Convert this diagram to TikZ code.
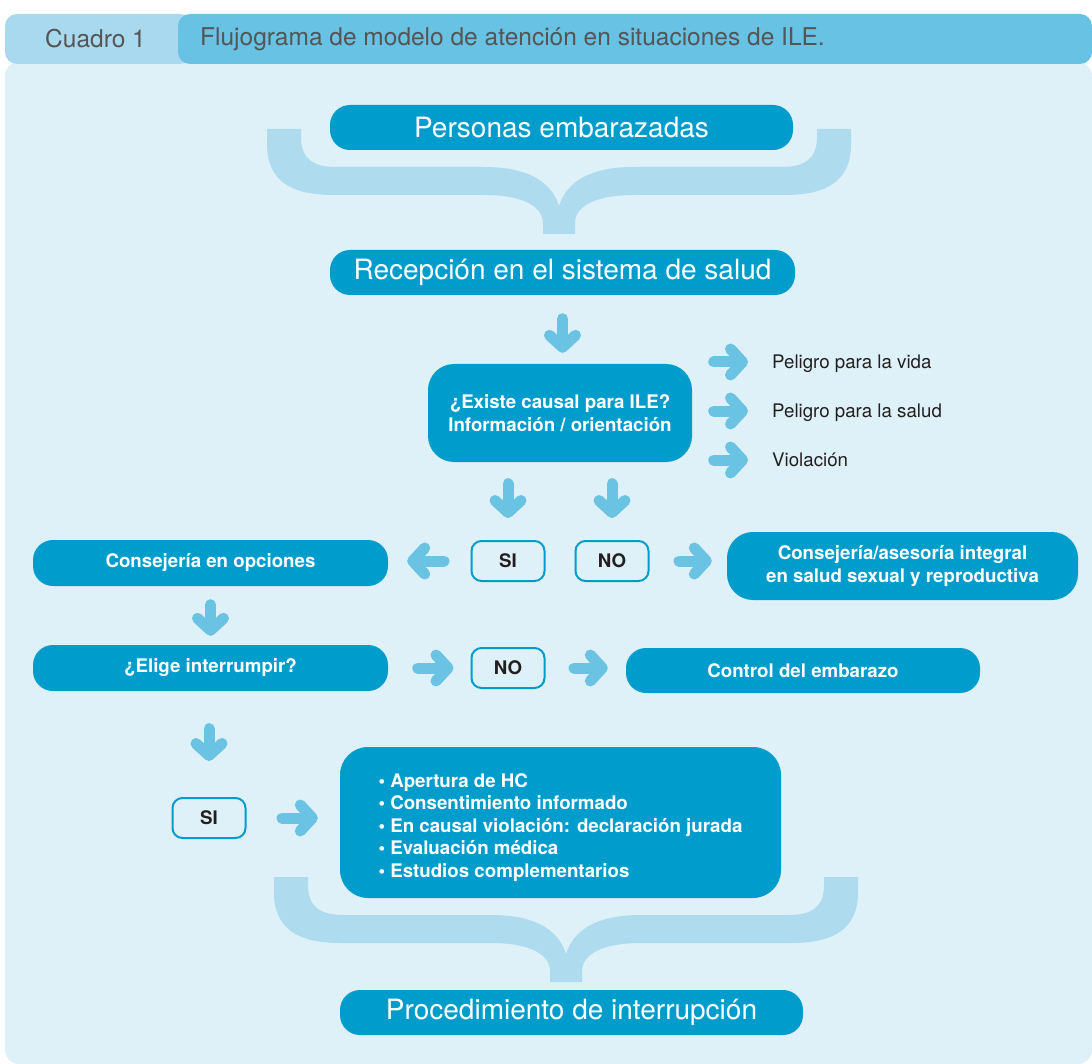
\documentclass[tikz,border=0pt]{standalone}
\usepackage{fontspec}
\setmainfont{TeX Gyre Heros}
\usetikzlibrary{arrows.meta}

\definecolor{azul}{RGB}{0,157,204}
\definecolor{celeste}{RGB}{106,195,226}
\definecolor{llavecol}{RGB}{174,219,238}
\definecolor{fondo}{RGB}{222,240,248}
\definecolor{tabclaro}{RGB}{168,217,238}
\definecolor{tabosc}{RGB}{103,194,228}
\definecolor{gristab}{RGB}{85,85,85}
\definecolor{texto}{RGB}{35,31,32}

% llave horizontal: centro x, borde superior y
\newcommand{\llave}[2]{%
	\fill[llavecol, shift={(#1,#2)}] (-292,0) -- (-292,15) .. controls (-292,52) and (-268,66) .. (-225,66) -- (-75,66)
		.. controls (-35,66) and (-16,78) .. (-16,94) -- (-16,105) -- (16,105) -- (16,94)
		.. controls (16,78) and (35,66) .. (75,66) -- (225,66) .. controls (268,66) and (292,52) .. (292,15)
		-- (292,0) -- (258,0) -- (258,8) .. controls (258,30) and (246,38) .. (222,38) -- (75,38)
		.. controls (32,38) and (8,52) .. (0,77) .. controls (-8,52) and (-32,38) .. (-75,38)
		-- (-222,38) .. controls (-246,38) and (-258,30) .. (-258,8) -- (-258,0) -- cycle;}

\begin{document}
\begin{tikzpicture}[x=1pt,y=-1pt,
		caja/.style={fill=azul, text=white, rounded corners=20pt, inner sep=0pt, align=center, font=\bfseries\fontsize{18.7}{22.5}\selectfont},
		titulo/.style={caja, font=\fontsize{28}{32}\selectfont},
		opcion/.style={draw=azul, line width=2pt, fill=fondo, rounded corners=10pt, inner sep=0pt, minimum width=73pt, minimum height=40pt, text=texto, font=\bfseries\fontsize{18.7}{22}\selectfont},
		causa/.style={anchor=west, inner sep=0pt, text height=13pt, text depth=0pt, text=texto, font=\fontsize{18.7}{22}\selectfont},
		flecha/.style={draw=celeste, line width=11pt, line cap=round, -{Straight Barb[round,length=12pt,width=26pt]}}]
	\useasboundingbox (0,0) rectangle (1092,1064);

	% fondo y encabezado
	\fill[fondo, rounded corners=14pt] (5,62) rectangle (1092,1064);
	\fill[tabclaro, rounded corners=12pt] (5,14) rectangle (192,64);
	\fill[tabosc, rounded corners=12pt] (178,14) rectangle (1092,64);
	\node[anchor=west, inner sep=0pt, text=gristab, font=\fontsize{24.5}{28}\selectfont] (cuadro) at (45,39) {Cuadro 1};
	\node[anchor=west, inner sep=0pt, text=gristab, font=\fontsize{24.5}{28}\selectfont] (encabezado) at (200,39) {Flujograma de modelo de atención en situaciones de ILE.};

	% llaves
	\llave{559}{129}
	\llave{566}{877}

	% entrada
	\node[titulo, minimum width=463pt, minimum height=45pt] (personas) at (561.5,127.5) {Personas embarazadas};
	\node[titulo, minimum width=465pt, minimum height=45pt] (recep) at (562.5,272.5) {Recepción en el sistema de salud};
	\node[caja, rounded corners=26pt, minimum width=264pt, minimum height=98pt] (causal) at (560,413) {¿Existe causal para ILE?\\Información / orientación};

	% causales
	\node[causa] (vida) at (772,362) {Peligro para la vida};
	\node[causa] (salud) at (772,411) {Peligro para la salud};
	\node[causa] (violacion) at (772,460) {Violación};

	% primera decision
	\node[opcion] (si1) at (508,561) {SI};
	\node[opcion] (no1) at (612,561) {NO};
	\node[caja, minimum width=355pt, minimum height=46pt] (opciones) at (210.5,563) {Consejería en opciones};
	\node[caja, rounded corners=26pt, minimum width=351pt, minimum height=68pt] (asesoria) at (902.5,566) {Consejería/asesoría integral\\en salud sexual y reproductiva};

	% segunda decision
	\node[caja, minimum width=355pt, minimum height=46pt] (elige) at (210.5,668) {¿Elige interrumpir?};
	\node[opcion] (no2) at (508,668) {NO};
	\node[caja, minimum width=354pt, minimum height=45pt] (control) at (803,670.5) {Control del embarazo};
	\node[opcion] (si2) at (209,818) {SI};
	\node[caja, align=left, rounded corners=28pt, minimum width=441pt, minimum height=151pt, font=\bfseries\fontsize{18.7}{22.5}\selectfont] (pasos) at (560.5,822.5) {\rule{0pt}{24pt}• Apertura de HC\\• Consentimiento informado\\• En causal violación: declaración jurada\\• Evaluación médica\\• Estudios complementarios};

	% salida
	\node[titulo, minimum width=463pt, minimum height=45pt] (procedimiento) at (571.5,1012.5) {Procedimiento de interrupción};

	% flechas
	\draw[flecha, shorten <=23.5pt, shorten >=11pt] (recep.south) -- (recep.south |- causal.north);
	\draw[flecha, shorten <=21.5pt, shorten >=24pt] (causal.east |- vida.west) -- (vida.west);
	\draw[flecha, shorten <=21.5pt, shorten >=24pt] (causal.east |- salud.west) -- (salud.west);
	\draw[flecha, shorten <=21.5pt, shorten >=24pt] (causal.east |- violacion.west) -- (violacion.west);
	\draw[flecha, shorten <=21.5pt, shorten >=22pt] (causal.south -| si1.north) -- (si1.north);
	\draw[flecha, shorten <=21.5pt, shorten >=22pt] (causal.south -| no1.north) -- (no1.north);
	\draw[flecha, shorten <=26.5pt, shorten >=19pt] (si1.west) -- (si1.west -| opciones.east);
	\draw[flecha, shorten <=29.5pt, shorten >=15pt] (no1.east) -- (no1.east -| asesoria.west);
	\draw[flecha, shorten <=18.5pt, shorten >=9pt] (opciones.south) -- (opciones.south |- elige.north);
	\draw[flecha, shorten <=29.5pt, shorten >=17pt] (elige.east |- no2.west) -- (no2.west);
	\draw[flecha, shorten <=28.5pt, shorten >=18pt] (no2.east) -- (no2.east -| control.west);
	\draw[flecha, shorten <=37.5pt, shorten >=36pt] (elige.south -| si2.north) -- (si2.north);
	\draw[flecha, shorten <=35.5pt, shorten >=22pt] (si2.east) -- (si2.east -| pasos.west);
\end{tikzpicture}
\end{document}
